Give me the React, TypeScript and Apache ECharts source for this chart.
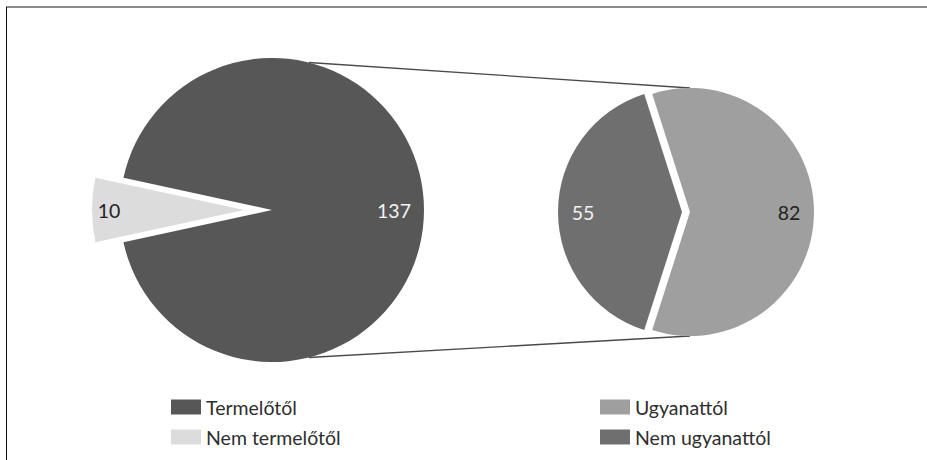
import React, { useEffect, useRef } from "react";
import * as echarts from "echarts";

// Origin of the goods: from the producer vs. not from the producer
const sourceNames = ["Nem termelőtől", "Termelőtől"];
const sourceValues = [10, 137];

// Breakdown of the "Termelőtől" group
const splitNames = ["Nem ugyanattól", "Ugyanattól"];
const splitValues = [55, 82];

const leftLegend = ["Termelőtől", "Nem termelőtől"];
const rightLegend = ["Ugyanattól", "Nem ugyanattól"];

const FONT = "Lato, 'Noto Sans', sans-serif";

const W = 927;
const H = 460;

// geometry of the two pies (pixels)
const L = { cx: 272, cy: 210, r: 152 };
const R = { cx: 686, cy: 212, r: 124 };

const sourceColors = ["#dcdcdc", "#575757"];
const splitColors = ["#6f6f6f", "#9f9f9f"];
const sourceLabelColors = ["#222222", "#f2f2f2"];
const splitLabelColors = ["#f2f2f2", "#222222"];

export default function App() {
  const ref = useRef<HTMLDivElement>(null);

  useEffect(() => {
    if (!ref.current) return;
    const chart = echarts.init(ref.current, undefined, { renderer: "svg" });

    const sum = (a: number[]) => a.reduce((s, v) => s + v, 0);
    // first slice centred on the 9 o'clock direction
    const leftStart = 180 + (sourceValues[0] / sum(sourceValues)) * 180;
    const rightStart = 180 + (splitValues[0] / sum(splitValues)) * 180;

    const leftData = sourceValues.map((v, i) => ({
      name: sourceNames[i],
      value: v,
      selected: i === 0,
      itemStyle: { color: sourceColors[i] },
    }));
    const rightData = splitValues.map((v, i) => ({
      name: splitNames[i],
      value: v,
      selected: true,
      itemStyle: { color: splitColors[i] },
    }));

    // ring radius so that an "inside" label sits at the given distance
    const innerFor = (r: number, dist: number) => 2 * (dist - 3) - r;

    const baseSeries = {
      type: "pie" as const,
      silent: true,
      clockwise: true,
      avoidLabelOverlap: false,
      emphasis: { disabled: true },
      labelLine: { show: false },
    };

    const legendBase = {
      orient: "vertical",
      top: 397,
      padding: 0,
      itemWidth: 30,
      itemHeight: 15,
      itemGap: 10,
      icon: "rect",
      selectedMode: false,
      textStyle: { fontSize: 19.5, color: "#2e2e2e", fontFamily: FONT },
    };

    const leftTop = (76 * Math.PI) / 180;

    const option: any = {
      animation: false,
      backgroundColor: "#ffffff",
      textStyle: { fontFamily: FONT },
      legend: [
        { ...legendBase, data: leftLegend, left: 171 },
        { ...legendBase, data: rightLegend, left: 600 },
      ],
      series: [
        {
          ...baseSeries,
          center: [L.cx, L.cy],
          radius: [0, L.r],
          startAngle: leftStart,
          selectedMode: "single",
          selectedOffset: 28,
          label: { show: false },
          data: leftData,
        },
        {
          ...baseSeries,
          center: [R.cx, R.cy],
          radius: [0, R.r],
          startAngle: rightStart,
          selectedMode: "multiple",
          selectedOffset: 4,
          label: { show: false },
          data: rightData,
        },
        // transparent rings carrying the value labels
        {
          ...baseSeries,
          z: 5,
          center: [L.cx, L.cy],
          radius: [innerFor(L.r, 122), L.r],
          startAngle: leftStart,
          selectedMode: "single",
          selectedOffset: 28,
          itemStyle: { color: "rgba(0,0,0,0)" },
          label: {
            show: true,
            position: "inside",
            formatter: "{c}",
            fontSize: 19.5,
            fontFamily: FONT,
          },
          data: sourceValues.map((v, i) => ({
            name: sourceNames[i],
            value: v,
            selected: i === 0,
            label: {
              color: sourceLabelColors[i],
              padding: i === 0 ? [0, 26, 0, 0] : 0,
            },
          })),
        },
        {
          ...baseSeries,
          z: 5,
          center: [R.cx, R.cy],
          radius: [innerFor(R.r, 99), R.r],
          startAngle: rightStart,
          selectedMode: "multiple",
          selectedOffset: 4,
          itemStyle: { color: "rgba(0,0,0,0)" },
          label: {
            show: true,
            position: "inside",
            formatter: "{c}",
            fontSize: 19.5,
            fontFamily: FONT,
          },
          data: splitValues.map((v, i) => ({
            name: splitNames[i],
            value: v,
            selected: true,
            label: { color: splitLabelColors[i] },
          })),
        },
      ],
      graphic: [
        // frame
        {
          type: "line",
          shape: { x1: 6, y1: 7, x2: W, y2: 7 },
          style: { stroke: "#8a8a8a", lineWidth: 2 },
          silent: true,
        },
        {
          type: "line",
          shape: { x1: 6.5, y1: 7, x2: 6.5, y2: H },
          style: { stroke: "#111111", lineWidth: 1 },
          silent: true,
        },
        // connectors between the two pies
        {
          type: "line",
          z: 1,
          shape: {
            x1: L.cx + L.r * Math.cos(leftTop),
            y1: L.cy - L.r * Math.sin(leftTop),
            x2: R.cx + 4,
            y2: R.cy - R.r,
          },
          style: { stroke: "#4a4a4a", lineWidth: 1.3 },
          silent: true,
        },
        {
          type: "line",
          z: 1,
          shape: {
            x1: L.cx + L.r * Math.cos(leftTop),
            y1: L.cy + L.r * Math.sin(leftTop),
            x2: R.cx + 4,
            y2: R.cy + R.r,
          },
          style: { stroke: "#4a4a4a", lineWidth: 1.3 },
          silent: true,
        },
      ],
    };

    chart.setOption(option);
    return () => chart.dispose();
  }, []);

  return (
    <div
      ref={ref}
      style={{ position: "fixed", left: 0, top: 0, width: W, height: H }}
    />
  );
}
